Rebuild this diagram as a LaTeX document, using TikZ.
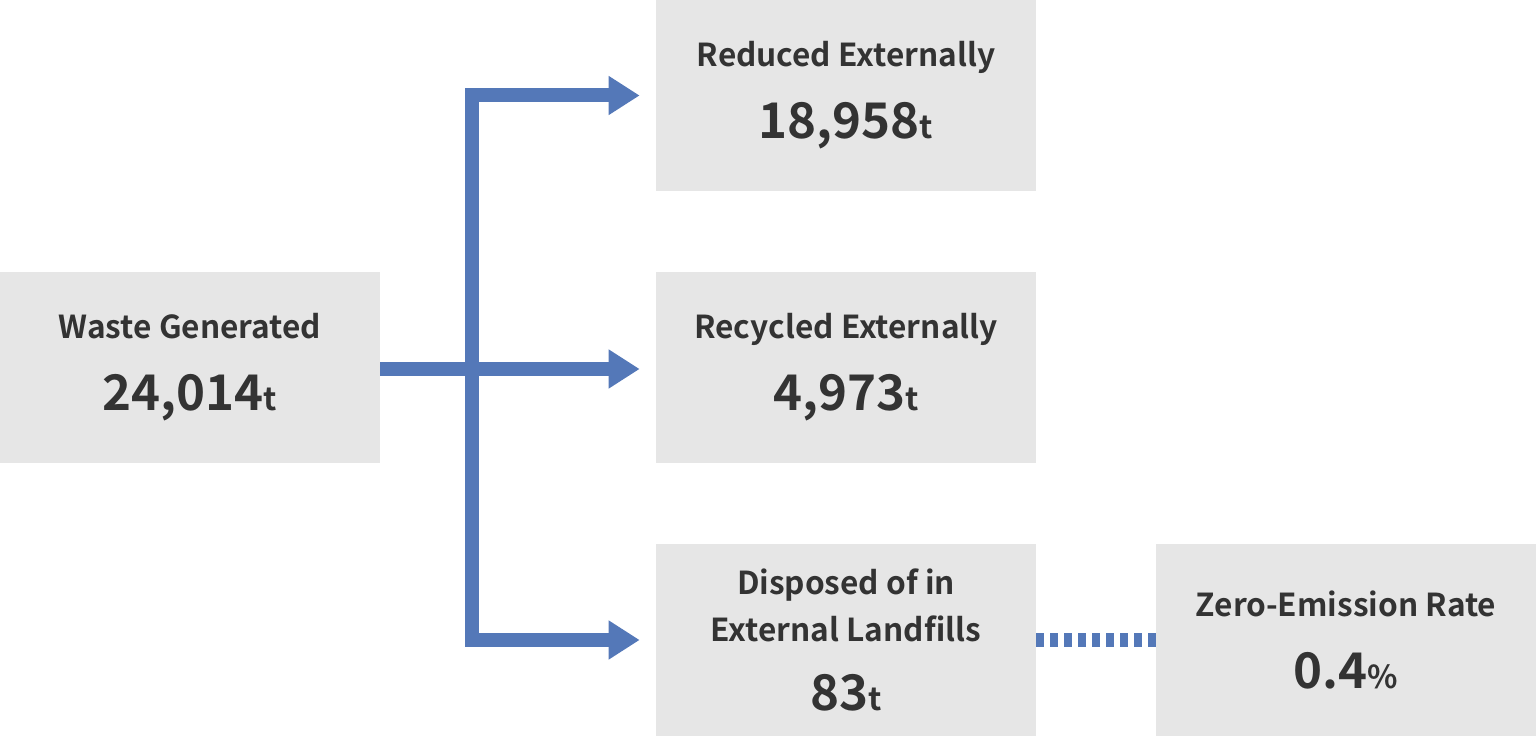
\documentclass[tikz,border=0pt]{standalone}
\usepackage{fontspec}
\setmainfont{Noto Sans CJK JP}[BoldFont={* Bold}]
\usetikzlibrary{arrows.meta}
\definecolor{boxgray}{HTML}{E6E6E6}
\definecolor{flowblue}{HTML}{5478B8}
\definecolor{txt}{HTML}{333333}
\tikzset{
  box/.style={fill=boxgray, minimum width=380*0.02cm, minimum height=191*0.02cm, inner sep=0pt,
    align=center, text=txt, font=\bfseries\fontsize{18}{27}\selectfont},
  flow/.style={draw=flowblue, line width=0.28cm},
  tip/.style={-{Triangle[length=0.62cm,width=0.74cm]}, shorten >=0.32cm}
}
\newcommand{\num}[2]{{\fontsize{28}{34}\selectfont #1}{\fontsize{18}{34}\selectfont #2}}
\begin{document}
\begin{tikzpicture}[x=0.02cm,y=-0.02cm]
\path[use as bounding box] (0,0) rectangle (1536,736);

\node[box] (gen) at (190,367.5) {Waste Generated\\[14pt]\num{24,014}{t}};
\node[box] (red) at (846,95.5) {Reduced Externally\\[14pt]\num{18,958}{t}};
\node[box] (rec) at (846,367.5) {Recycled Externally\\[14pt]\num{4,973}{t}};
\node[box, minimum height=192*0.02cm] (land) at (846,640) {Disposed of in\\External Landfills\\[12pt]\num{83}{t}};
\node[box, minimum height=192*0.02cm] (zero) at (1346,640) {Zero-Emission Rate\\[14pt]\num{0.4}{\%}};

\coordinate (split) at (472,369);
\path[flow] (gen.east |- split) -- (split);
\path[flow] (split |- red.west) ++(0,-0.14) -- (split |- land.west);
\draw[flow,tip] ([xshift=-0.14cm]split |- red.west) -- (red.west);
\draw[flow,tip] (split) -- (split -| rec.west);
\draw[flow,tip] ([xshift=-0.14cm]split |- land.west) -- (land.west);

\draw[flow, dash pattern=on 0.16cm off 0.12cm] (land.east) -- (zero.west);
\end{tikzpicture}
\end{document}
